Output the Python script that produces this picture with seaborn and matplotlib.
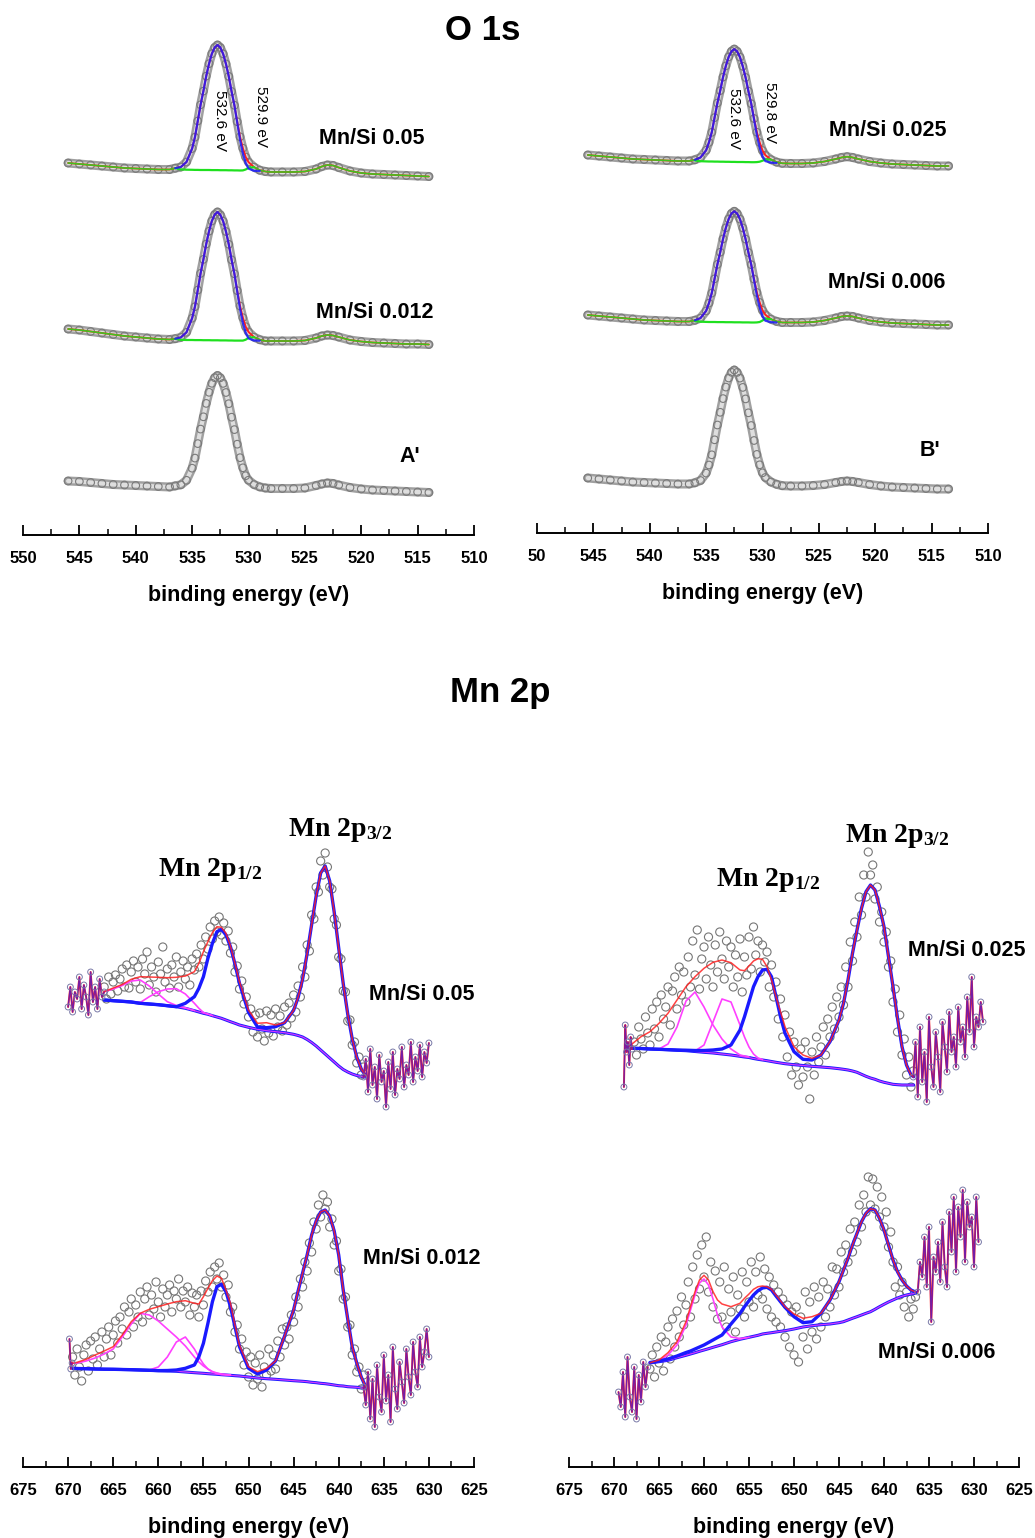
import numpy as np
import matplotlib
matplotlib.use("Agg")
import matplotlib.pyplot as plt
import seaborn as sns
from matplotlib.ticker import MultipleLocator

# ====================== DATA ======================
# ---- O 1s energy grids (eV) ----
O1S_E_L = [546, 545, 544, 543, 542, 541, 540, 539, 538, 537,
           536.5, 536, 535.5,
           535, 534.75, 534.5, 534.25, 534, 533.75, 533.5, 533.25, 533, 532.75, 532.5,
           532.25, 532, 531.75, 531.5, 531.25, 531, 530.75, 530.5, 530.25, 530,
           529.5, 529, 528.5, 528, 527, 526, 525, 524, 523.5, 523, 522.5, 522, 521, 520,
           519, 518, 517, 516, 515, 514]
O1S_E_R = [545.5, 544.5, 543.5, 542.5, 541.5, 540.5, 539.5, 538.5, 537.5, 536.5,
           536, 535.5, 535,
           534.75, 534.5, 534.25, 534, 533.75, 533.5, 533.25, 533, 532.75, 532.5, 532.25,
           532, 531.75, 531.5, 531.25, 531, 530.75, 530.5, 530.25, 530, 529.75,
           529.25, 528.75, 528.25, 527.5, 526.5, 525.5, 524.5, 523.5, 523, 522.5, 522,
           521.5, 520.5, 519.5, 518.5, 517.5, 516.5, 515.5, 514.5, 513.5]

# ---- O 1s intensities (a.u.) ----
O1S_MN005 = [42, 41, 40, 39, 38, 37, 36.5, 36, 35.5, 35.5, 36.8, 38, 43, 56.5, 67.8, 84, 100.2,
             113.9, 128.9, 141.3, 151.3, 157.5, 160, 157.5, 151.1, 141.1, 128.6, 113.5, 99.7,
             83.3, 68.2, 56.8, 48, 42.9, 37.8, 34.8, 33.5, 33, 33, 33, 33.5, 36, 38.5, 40, 39.5,
             37.5, 34, 32, 31, 30.5, 30, 29.5, 29, 28.5]
O1S_MN005_PEAK = [36.8, 38, 43, 56.5, 67.8, 84, 100.2, 113.9, 128.9, 141.3, 151.3, 157.5, 160,
                  157.5, 151.1, 141.1, 128.6, 113.5, 99.7, 82.3, 65.2, 51.8, 42, 36.4, 34.2, 34]
O1S_MN005_BG = [36.8, 35.6, 35.3, 35.2, 35.1, 35.1, 35, 35, 35, 35, 34.9, 34.9, 34.9, 34.8, 34.8,
                34.8, 34.7, 34.7, 34.6, 34.6, 34.5, 34.6, 35.5, 37.2, 37.8]

O1S_MN0012 = [46, 45, 43.5, 42, 40.5, 39, 38, 37, 36, 35.5, 36.3, 37.6, 42.7, 56.8, 68.3, 84.9,
              101.6, 115.6, 131, 143.8, 154, 160.4, 163, 160.2, 153.8, 143.5, 130.7, 115.2, 101.2,
              84.4, 69, 57.3, 48.3, 43.1, 37.8, 35.3, 34, 34, 34, 34, 34.5, 37, 39, 40, 39.5, 38,
              35, 33.5, 32.5, 32, 31.5, 31, 31, 30.5]
O1S_MN0012_PEAK = [36.3, 37.6, 42.7, 56.8, 68.3, 84.9, 101.6, 115.6, 131, 143.8, 154, 160.4, 163,
                   160.2, 153.8, 143.5, 130.7, 115.2, 101.2, 83.4, 66, 52.3, 42.3, 36.6, 34.5, 34.3]
O1S_MN0012_BG = [36.3, 35.2, 35, 35, 34.9, 34.9, 34.9, 34.8, 34.8, 34.8, 34.7, 34.7, 34.7, 34.6,
                 34.6, 34.6, 34.5, 34.5, 34.4, 34.4, 34.4, 34.4, 35.3, 37.2, 37.8]

O1S_A = [54, 53.5, 52.5, 51.5, 50.5, 50, 49.5, 49, 48.5, 48, 49.1, 50.2, 54.7, 66.8, 76.9, 91.4,
         105.9, 118.2, 131.6, 142.7, 151.7, 157.3, 159.5, 157.2, 151.6, 142.5, 131.3, 117.8, 105.4,
         90.8, 77.3, 67.2, 59.3, 54.8, 50.4, 48.1, 47, 46.5, 46.5, 46.5, 47, 49.5, 51, 52, 51.5,
         50, 47.5, 46, 45, 44.5, 44, 43.5, 43, 42.5]

O1S_MN0025 = [48, 47, 46, 45, 44, 43.5, 43, 42.5, 42, 42, 43.2, 45.5, 52.7, 60.6, 70.7, 85.4, 100,
              112.4, 125.9, 137.1, 146.1, 151.7, 153.9, 151.6, 145.9, 136.7, 125.5, 111.8, 99.3,
              84.5, 70.8, 60.5, 52.5, 47.9, 43.4, 40.9, 39.7, 39.5, 39.5, 40, 41.5, 44, 45.5, 46.3,
              45.5, 44, 41.5, 40, 39, 38.5, 38, 37.5, 37, 37]
O1S_MN0025_PEAK = [43.2, 45.5, 52.7, 60.6, 70.7, 85.4, 100, 112.4, 125.9, 137.1, 146.1, 151.7,
                   153.9, 151.6, 145.9, 136.7, 125.5, 111.8, 99.3, 83.5, 67.8, 55.5, 46.5, 41.9,
                   40.4, 40]
O1S_MN0025_BG = [42.5, 41.8, 41.6, 41.5, 41.5, 41.4, 41.4, 41.3, 41.3, 41.2, 41.2, 41.1, 41.1, 41,
                 41, 41, 40.9, 40.9, 40.8, 40.8, 40.9, 41.3, 42.3, 43.5, 43.4]

O1S_MN0006 = [58, 57, 56, 55, 54, 53, 52.5, 52, 51.5, 51.5, 52.7, 54.9, 62.1, 69.9, 79.9, 94.2,
              108.6, 120.8, 134.1, 145.2, 154, 159.6, 161.7, 159.5, 153.9, 145.1, 133.9, 120.5,
              108.3, 93.9, 80.5, 70.5, 62.7, 58.3, 53.8, 51.6, 50.5, 50.5, 50.5, 51, 52.5, 55,
              56.5, 57, 56.5, 55, 52.5, 51, 50, 49.5, 49, 48.5, 48, 48]
O1S_MN0006_PEAK = [52.7, 54.9, 62.1, 69.9, 79.9, 94.2, 108.6, 120.8, 134.1, 145.2, 154, 159.6,
                   161.7, 159.5, 153.9, 145.1, 133.9, 120.5, 108.3, 92.9, 77.5, 65.5, 56.7, 52.3,
                   50.8, 50.5]
O1S_MN0006_BG = [52, 51.3, 51.1, 51, 51, 51, 50.9, 50.9, 50.9, 50.8, 50.8, 50.8, 50.7, 50.7, 50.7,
                 50.6, 50.6, 50.6, 50.5, 50.5, 50.6, 51, 52.5, 54.5, 53.8]

O1S_B = [55, 54, 53, 52, 51, 50.5, 50, 49.5, 49, 49, 50.2, 52.5, 59.9, 68, 78.2, 93.2, 108, 120.7,
         134.4, 145.9, 155, 160.7, 163, 160.6, 154.9, 145.6, 134.1, 120.2, 107.5, 92.5, 78.6,
         68.2, 60.2, 55.5, 51, 48.7, 47.3, 47, 47, 47.5, 48.5, 50.5, 51.5, 52, 51.5, 50.5, 48.5,
         47, 46, 45.5, 45, 44.5, 44, 44]

# ---- Mn 2p fit energy grids (eV) ----
MN_CORE_E = [666, 665, 664, 663, 662, 661, 660, 659, 658, 657, 656,
             655.5, 655, 654.5, 654, 653.5, 653, 652.5, 652, 651.5, 651,
             650, 649, 648, 647, 646, 645,
             644.5, 644, 643.5, 643, 642.5, 642, 641.5, 641, 640.5, 640, 639.5, 639,
             638.5, 638, 637.5, 637]
MN05_E = MN_CORE_E
MN012_E = [669.5, 669, 668, 667] + MN_CORE_E
MN025_E = [668, 667] + MN_CORE_E + [636.7]
MN006_E = [666, 665, 664, 663, 662, 661.5, 661, 660.5, 660, 659.5, 659, 658.5, 658, 657, 656,
           655.5, 655, 654.5, 654, 653.5, 653, 652.5, 652, 651.5, 651,
           650, 649, 648, 647, 646, 645,
           644.5, 644, 643.5, 643, 642.5, 642, 641.5, 641, 640.5, 640, 639.5, 639,
           638.5, 638, 637.5, 637, 636.5]

# ---- Mn/Si 0.05 ----
MN05_BG = [137, 136.3, 135.7, 135, 133.7, 133, 132.3, 131.3, 130.3, 128.7, 126.3,
           125, 123.7, 122.7, 121.3, 120, 118.7, 117, 115.3, 113.7, 112,
           109.7, 107.7, 106.3, 105.3, 104.3, 102.7,
           101.5, 100, 97.5, 94.5, 91, 87, 83, 79, 75, 71, 67.5, 65, 63, 61.5, 60.5, 60]
MN05_MAIN = [137, 136.3, 135.7, 135, 133.7, 133, 132.3, 131.3, 130.3, 133.7, 140.3,
             148.7, 160.3, 178.7, 193.7, 205.3, 207.7, 202, 190.3, 173, 153.7,
             124.7, 110, 109.3, 110.3, 114.3, 126.7,
             139.5, 158, 183.5, 212.5, 241, 264, 271, 256, 225, 189, 153.5, 123, 98, 80, 68, 61]
MN05_ENV = [145.3, 149, 152.5, 157.7, 160.3, 160, 159.7, 159.3, 159.7, 161, 165.3,
            173.7, 185.3, 195.3, 204.3, 210.3, 209.7, 203.7, 191, 173.7, 155.3,
            127, 113.7, 114.3, 112]
MN05_SAT1 = [145.3, 148, 151.5, 156, 157, 151, 143, 135.3, 131.5, 129.2, 126.5]
MN05_SAT2 = [135.3, 134.5, 140.3, 145.3, 148, 148.3, 143, 133.7, 128.7, 124.5, 123, 121.5]
MN05_SCAT = [150, 138, 160, 143, 155, 162, 146, 158, 168, 150, 172, 149, 165, 176, 155, 170,
             148, 178, 163, 185, 152, 170, 160, 145, 175, 163, 190, 155, 168, 149, 172, 160,
             180, 150, 165, 176, 158, 170, 152, 178, 167, 183, 170, 192, 178, 200, 188, 210,
             198, 216, 205, 220, 202, 214, 196, 206, 184, 190, 165, 171, 148, 156, 133, 140,
             120, 128, 105, 122, 100, 124, 108, 96, 126, 104, 122, 101, 128, 110, 121, 106,
             130, 112, 134, 119, 142, 125, 151, 140, 170, 160, 192, 186, 222, 218, 250, 245,
             276, 262, 284, 270, 250, 248, 218, 212, 180, 178, 146, 145, 116, 117, 92, 95, 74,
             80, 62, 70]
MN05_LEFT = [130, 150, 125, 145, 138, 160, 128, 152, 140, 122, 165, 135, 150, 128, 158, 140, 145]
MN05_RIGHT = [60, 78, 45, 88, 52, 70, 38, 82, 55, 66, 30, 75, 48, 85, 42, 68, 58, 90, 50, 72,
              62, 95, 55, 80, 66, 92, 60, 85, 74, 94]

# ---- Mn/Si 0.012 ----
MN012_BG = [98.7, 98.5, 98.3, 98,
            97.8, 97.7, 97.5, 97.3, 97, 96.7, 96.3, 96, 95.7, 95, 94.3,
            94, 93.7, 93.3, 93, 92.7, 92.3, 92, 91.7, 91.3, 91,
            90, 89, 88.3, 87.7, 87, 86.3,
            86, 85.7, 85.3, 84.7, 84.3, 83.7, 83.3, 82.7, 82, 81.3, 81, 80.3, 80, 79.7, 79, 78.7]
MN012_MAIN = [98.7, 98.5, 98.3, 98,
              97.8, 97.7, 97.5, 97.3, 97, 96.7, 96.4, 96.5, 97, 98.7, 102,
              110.3, 123.7, 143.7, 165.3, 180.3, 182.7, 175.3, 160.3, 140.3, 120.3,
              98.7, 93, 97, 106, 131, 157,
              176, 194, 212, 232, 246, 255, 257, 251, 236, 212, 177, 148, 120, 104, 90, 80]
MN012_ENV = [103.7, 104.7, 107.7, 112,
             116, 120.3, 132, 145.3, 153.7, 157.7, 160.3, 163, 165.3, 166.3, 163.7,
             163, 170.3, 178.7, 186.3, 191, 188.7, 177, 163.7, 142, 122,
             100.3, 95.3, 98.7]
MN012_SAT1 = [103.7, 104, 106, 109, 113, 118, 130, 143, 153.7, 152, 146, 138, 130, 121, 110, 105,
              101, 98, 95.5, 94, 93, 92.5, 92]
MN012_SAT2 = [97, 100, 110, 125, 130, 118, 110, 103, 98, 95, 93.5, 92.5, 92.2, 92]
MN012_SCAT = [110, 92, 118, 100, 86, 112, 122, 96, 126, 108, 130, 102, 118, 135, 110, 128, 140,
              112, 132, 146, 124, 150, 138, 160, 132, 155, 168, 140, 162, 150, 175, 145, 168,
              180, 152, 172, 158, 185, 165, 150, 178, 160, 172, 182, 155, 176, 168, 188, 160,
              176, 165, 180, 152, 174, 160, 172, 150, 176, 162, 186, 175, 195, 180, 200, 188,
              204, 180, 192, 170, 182, 155, 160, 135, 142, 118, 128, 102, 115, 90, 110, 82, 104,
              88, 112, 80, 100, 92, 118, 96, 112, 98, 126, 110, 138, 122, 140, 128, 152, 145,
              170, 160, 188, 180, 205, 196, 224, 215, 245, 238, 262, 250, 272, 258, 265, 240,
              248, 222, 226, 196, 198, 168, 170, 140, 142, 112, 118, 95, 100, 78, 92]
MN012_LEFT = [128, 98, 104]
MN012_RIGHT = [80, 62, 95, 48, 88, 40, 102, 70, 55, 112, 66, 92, 45, 120, 78, 58, 105, 85, 64,
               118, 90, 72, 125, 95, 80, 130, 100, 115, 138, 110]

# ---- Mn/Si 0.025 ----
MN025_BG = [88.7, 88.5,
            88, 87.7, 87.3, 86.7, 86.3, 85.5, 84.7, 84, 83, 82, 80.7,
            80, 79.5, 78.5, 77.7, 77, 76.3, 75.5, 74.7, 74, 73.3,
            72.3, 71.5, 70.7, 70, 69.3, 68.3,
            67.7, 67, 66, 64.7, 62.7, 60.7, 59, 57.7, 56, 54.7, 53.7, 52.7, 52.3, 52, 52, 52,
            52]
MN025_MAIN = [88.7, 88.5,
              88, 87.7, 87.3, 87, 86.8, 86.5, 86.5, 87, 88, 92, 107,
              120.3, 135.3, 150.3, 160.3, 167, 167.7, 160.3, 140.3, 120.3, 103.7,
              85.3, 77.7, 77, 82, 95.3, 117,
              133.7, 157, 183.7, 207, 228.7, 245.3, 252, 247, 230.3, 210.3, 180.3, 150.3, 118.7,
              90.3, 72, 62,
              60.3]
MN025_ENV = [93, 100.3,
             105.3, 113.7, 123.7, 137, 150.3, 160.3, 168.7, 174.7, 177, 174.3, 167,
             166.3, 171, 176, 178.3, 177.7, 170.3, 157, 140.3, 125.3, 110.3,
             90.3, 82, 78.7]
MN025_SAT1 = [88, 93, 110, 136, 145, 130, 112, 98, 88, 82, 81, 80]
MN025_SAT2 = [86, 92, 115, 138, 135, 112, 100, 90, 83, 79, 77.5]
MN025_SCAT = [95, 82, 110, 98, 88, 120, 104, 92, 128, 108, 135, 100, 142, 118, 130, 150, 112, 146,
              160, 128, 170, 142, 165, 135, 180, 150, 196, 162, 207, 148, 178, 190, 158, 200,
              172, 150, 192, 165, 205, 178, 158, 196, 170, 190, 150, 182, 160, 198, 145, 180,
              162, 200, 168, 210, 182, 196, 165, 192, 175, 185, 150, 172, 140, 155, 118, 138,
              100, 122, 80, 105, 62, 95, 70, 52, 88, 60, 95, 70, 38, 85, 62, 100, 75, 90, 110,
              82, 118, 100, 130, 108, 140, 120, 150, 132, 170, 150, 195, 176, 215, 200, 240,
              222, 262, 240, 285, 262, 272, 238, 250, 215, 225, 195, 205, 170, 176, 135, 148,
              105, 122, 82, 98, 62, 80, 50, 66]
MN025_LEFT = [50, 112, 85, 95, 72, 100, 88]
MN025_RIGHT = [60, 95, 40, 110, 55, 85, 35, 120, 70, 50, 105, 80, 45, 115, 90, 65, 125, 85,
               100, 70, 130, 95, 110, 80, 140, 105, 160, 90, 120, 110, 135, 115]

# ---- Mn/Si 0.006 ----
MN006_BG = [104, 105.3, 106.7, 109.3, 111.7,
            113, 114.3, 115.7, 117, 118.3, 119.7, 121, 122.3,
            125.3, 127.7,
            128.7, 129.7, 130.7, 131.7, 133, 133.7, 134.3, 135, 135.7, 136.3,
            138, 140, 141.3, 142.3, 143, 144.3,
            145.3, 147, 148.7, 150.3, 152, 153.7, 155.3, 157.7, 160.3, 162.7, 165, 167, 169,
            170.7, 172, 173,
            173.7]
MN006_MAIN = [104.5, 106, 108, 111, 114.5,
              116, 118, 120, 122, 124.5, 127, 129.5, 132,
              143, 153.7,
              160.3, 166.3, 172, 176.3, 179, 179.7, 177, 171, 165.3, 159.7,
              150.3, 144.3, 145.3, 153.7, 167, 185.3,
              197, 208.7, 222, 233.7, 245.3, 253.7, 258.3, 257, 248.7, 237, 222, 207, 195.3,
              187, 181, 177,
              175]
MN006_ENV = [104.3, 107, 114.3, 125.3, 145.3,
             160.3, 175.3, 187, 191.7, 187, 175.3, 167, 163,
             160.3, 163.7,
             168.7, 173, 177.7, 180.3, 181, 180.3, 177.7, 172, 166.3, 160.3,
             153, 148.7, 150.3]
MN006_SAT = [104.3, 106, 112, 122, 142, 157, 172, 184, 188, 182, 168, 152, 140, 130, 128.5, 129,
             129.7]
MN006_SCAT = [98, 112, 90, 120, 104, 130, 96, 125, 140, 108, 148, 120, 156, 130, 170, 142, 162,
              185, 150, 200, 168, 212, 178, 222, 190, 230, 175, 205, 160, 196, 148, 185, 150,
              200, 140, 178, 155, 190, 135, 172, 158, 195, 150, 185, 165, 205, 160, 195, 172,
              210, 168, 198, 158, 190, 150, 182, 145, 175, 140, 168, 130, 162, 120, 155, 112,
              160, 105, 150, 130, 175, 118, 165, 135, 180, 128, 170, 140, 185, 150, 178, 160,
              200, 172, 198, 180, 215, 195, 222, 205, 238, 215, 245, 225, 262, 240, 272, 255,
              290, 262, 288, 258, 280, 250, 270, 240, 255, 220, 235, 205, 180, 200, 172, 185,
              160, 175, 150, 168, 158, 170]
MN006_LEFT = [75, 60, 95, 50, 110, 70, 55, 100, 48, 92, 65, 105, 80, 100]
MN006_RIGHT = [175, 205, 190, 230, 180, 240, 145, 210, 195, 225, 185, 245, 200, 180, 255, 215,
               270, 195, 260, 230, 277, 205, 265, 240, 250, 200, 270, 225]

# tick labels
O1S_TICKS = [550, 545, 540, 535, 530, 525, 520, 515, 510]
O1S_LABELS_L = ["550", "545", "540", "535", "530", "525", "520", "515", "510"]
O1S_LABELS_R = ["50", "545", "540", "535", "530", "525", "520", "515", "510"]
MN_TICKS = [675, 670, 665, 660, 655, 650, 645, 640, 635, 630, 625]
MN_LABELS = [str(t) for t in MN_TICKS]

# ====================== STYLE / LAYOUT ======================
sns.set_theme(style="white")
plt.rcParams["font.family"] = ["Liberation Sans", "DejaVu Sans"]
plt.rcParams["mathtext.fontset"] = "custom"
plt.rcParams["mathtext.rm"] = "Liberation Serif:bold"
plt.rcParams["mathtext.it"] = "Liberation Serif:bold"
plt.rcParams["mathtext.bf"] = "Liberation Serif:bold"

W, H = 1035, 1538
fig = plt.figure(figsize=(W / 100, H / 100), dpi=100)
fig.patch.set_facecolor("white")


def fx(x):
    return x / W


def fy(y):
    return 1 - y / H


RED = "#ff2020"
BLUE = "#1a1aff"
MAG = "#ff40ff"
GREEN = "#1fe01f"


def line(ax, x, y, color, lw, alpha=1.0, z=2):
    sns.lineplot(x=np.asarray(x, float), y=np.asarray(y, float), ax=ax, color=color, lw=lw,
                 alpha=alpha, sort=False, estimator=None, legend=False, zorder=z)


def circles(ax, x, y, s, edge, lw=0.8, z=3):
    sns.scatterplot(x=np.asarray(x, float), y=np.asarray(y, float), ax=ax, s=s,
                    facecolor="none", edgecolor=edge, linewidth=lw, legend=False, zorder=z)


def style_axis(ax, xlim, ylim, ticks, labels):
    ax.set_xlim(*xlim)
    ax.set_ylim(*ylim)
    for s in ("left", "right", "top"):
        ax.spines[s].set_visible(False)
    ax.spines["bottom"].set_color("black")
    ax.spines["bottom"].set_linewidth(1.4)
    ax.set_yticks([])
    ax.set_xticks(ticks)
    ax.set_xticklabels(labels, fontsize=12, fontweight="bold", color="black")
    ax.xaxis.set_minor_locator(MultipleLocator(2.5))
    ax.tick_params(axis="x", which="major", direction="in", length=7, width=1.3, pad=11.5,
                   bottom=True, color="black", labelcolor="black")
    ax.tick_params(axis="x", which="minor", direction="in", length=4, width=1.1,
                   bottom=True, color="black")
    ax.set_xlabel("binding energy (eV)", fontsize=15.5, fontweight="bold", labelpad=14,
                  color="black")
    ax.set_ylabel("")
    ax.patch.set_alpha(0)


def o1s(ax, E, I, off, peak=None, bg=None):
    E = np.asarray(E, float)
    y = np.asarray(I, float) + off
    line(ax, E, y, "#a0a0a0", 6.5, z=2)
    line(ax, E, y, "#dedede", 3.0, z=2.1)
    circles(ax, E, y, 30, "#7a7a7a", 0.8, z=3)
    if peak is not None:
        line(ax, E, y, RED, 1.4, z=4)
        line(ax, E[:11], y[:11], GREEN, 1.2, alpha=0.85, z=4.5)
        line(ax, E[10:35], np.asarray(bg) + off, GREEN, 1.6, z=4.5)
        line(ax, E[34:], y[34:], GREEN, 1.2, alpha=0.85, z=4.5)
        line(ax, E[10:36], np.asarray(peak) + off, BLUE, 1.6, alpha=0.85, z=5)


def noise(ax, start, step, vals, off):
    x = start - step * np.arange(len(vals))
    y = np.asarray(vals, float) + off
    line(ax, x, y, RED, 1.4, z=5)
    line(ax, x, y, BLUE, 1.0, alpha=0.6, z=5.1)
    circles(ax, x, y, 18, "#7a7aa8", 0.7, z=5.2)


def mn(ax, E, off, bg, main, env, sats, scat, left, right):
    E = np.asarray(E, float)
    sx = scat[0] - scat[1] * np.arange(len(scat[2]))
    circles(ax, sx, np.asarray(scat[2], float) + off, 34, "#777777", 0.8, z=2)
    line(ax, E, np.asarray(bg) + off, BLUE, 2.2, z=3)
    line(ax, E, np.asarray(bg) + off, MAG, 0.9, alpha=0.8, z=3.1)
    for se, sv in sats:
        line(ax, se, np.asarray(sv) + off, MAG, 1.2, z=3.2)
    line(ax, E, np.asarray(main) + off, BLUE, 2.4, z=4)
    full_env = list(env) + list(main[len(env):])
    line(ax, E, np.asarray(full_env) + off, RED, 1.1, alpha=0.85, z=5)
    if left is not None:
        noise(ax, left[0], left[1], left[2], off)
    noise(ax, right[0], right[1], right[2], off)


# ---------------- O 1s panels ----------------
ax1 = fig.add_axes([fx(23), fy(535), fx(451), 505 / H])
o1s(ax1, O1S_E_L, O1S_MN005, 330, O1S_MN005_PEAK, O1S_MN005_BG)
o1s(ax1, O1S_E_L, O1S_MN0012, 160, O1S_MN0012_PEAK, O1S_MN0012_BG)
o1s(ax1, O1S_E_L, O1S_A, 0)
style_axis(ax1, (550, 510), (0, 505), O1S_TICKS, O1S_LABELS_L)

ax2 = fig.add_axes([fx(537), fy(533), fx(451), 503 / H])
o1s(ax2, O1S_E_R, O1S_MN0025, 330, O1S_MN0025_PEAK, O1S_MN0025_BG)
o1s(ax2, O1S_E_R, O1S_MN0006, 160, O1S_MN0006_PEAK, O1S_MN0006_BG)
o1s(ax2, O1S_E_R, O1S_B, 0)
style_axis(ax2, (550, 510), (0, 503), O1S_TICKS, O1S_LABELS_R)

# ---------------- Mn 2p panels ----------------
ax3 = fig.add_axes([fx(23), fy(1467), fx(451), 667 / H])
mn(ax3, MN05_E, 330, MN05_BG, MN05_MAIN, MN05_ENV,
   [(MN_CORE_E[0:11], MN05_SAT1), (MN_CORE_E[3:15], MN05_SAT2)],
   (666.0, 0.25, MN05_SCAT), (670.0, 0.25, MN05_LEFT), (637.25, 0.25, MN05_RIGHT))
mn(ax3, MN012_E, 0, MN012_BG, MN012_MAIN, MN012_ENV,
   [(MN012_E[0:23], MN012_SAT1), (MN012_E[9:23], MN012_SAT2)],
   (669.5, 0.25, MN012_SCAT), (669.85, 0.15, MN012_LEFT), (637.25, 0.25, MN012_RIGHT))
style_axis(ax3, (675, 625), (0, 667), MN_TICKS, MN_LABELS)

ax4 = fig.add_axes([fx(569), fy(1467), fx(450), 667 / H])
mn(ax4, MN025_E, 330, MN025_BG, MN025_MAIN, MN025_ENV,
   [(MN025_E[3:15], MN025_SAT1), (MN025_E[7:18], MN025_SAT2)],
   (667.75, 0.25, MN025_SCAT), (668.9, 0.15, MN025_LEFT), (636.75, 0.25, MN025_RIGHT))
mn(ax4, MN006_E, 0, MN006_BG, MN006_MAIN, MN006_ENV,
   [(MN006_E[0:17], MN006_SAT)],
   (666.0, 0.25, MN006_SCAT), (669.5, 0.25, MN006_LEFT), (636.25, 0.25, MN006_RIGHT))
style_axis(ax4, (675, 625), (0, 667), MN_TICKS, MN_LABELS)

# ---------------- texts ----------------
def t(x, y, s, size, weight="bold", rot=0, family=None):
    kw = dict(fontsize=size, fontweight=weight, rotation=rot, ha="center", va="center",
              color="black")
    if family:
        kw["family"] = family
    fig.text(fx(x), fy(y), s, **kw)


t(483, 30, "O 1s", 25)
t(500, 693, "Mn 2p", 25)

t(220, 121, "532.6 eV", 11, weight="normal", rot=270)
t(261, 117, "529.9 eV", 11, weight="normal", rot=270)
t(734, 118, "532.6 eV", 11, weight="normal", rot=270)
t(770, 112, "529.8 eV", 11, weight="normal", rot=270)

t(372, 138, "Mn/Si 0.05", 15.5)
t(375, 312, "Mn/Si 0.012", 15.5)
t(410, 456, "A'", 15.5)
t(888, 130, "Mn/Si 0.025", 15.5)
t(887, 283, "Mn/Si 0.006", 15.5)
t(930, 450, "B'", 15.5)

t(422, 995, "Mn/Si 0.05", 15.5)
t(422, 1259, "Mn/Si 0.012", 15.5)
t(967, 950, "Mn/Si 0.025", 15.5)
t(937, 1352, "Mn/Si 0.006", 15.5)

t(340, 830, r"Mn 2p$_{3/2}$", 20, family="Liberation Serif")
t(210, 870, r"Mn 2p$_{1/2}$", 20, family="Liberation Serif")
t(897, 836, r"Mn 2p$_{3/2}$", 20, family="Liberation Serif")
t(768, 880, r"Mn 2p$_{1/2}$", 20, family="Liberation Serif")

fig.savefig("out.png", dpi=100, facecolor="white")
